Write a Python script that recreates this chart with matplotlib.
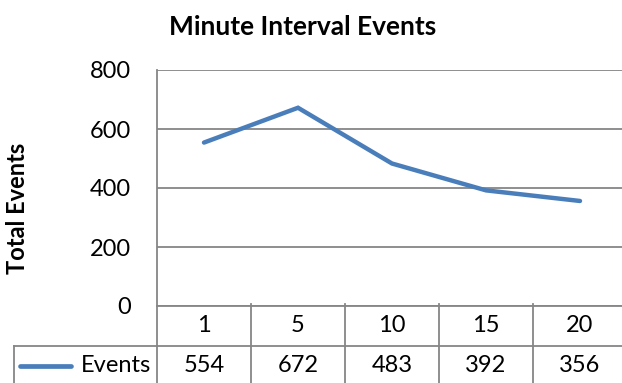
import matplotlib
matplotlib.use("Agg")
import matplotlib.pyplot as plt
from matplotlib.transforms import blended_transform_factory
from matplotlib.lines import Line2D

categories = ["1", "5", "10", "15", "20"]
events = [554, 672, 483, 392, 356]
series_name = "Events"
yticks = [0, 200, 400, 600, 800]
title = "Minute Interval Events"
ylabel = "Total Events"

W, H = 622, 383
plt.rcParams['font.family'] = ['Lato', 'DejaVu Sans']
fig = plt.figure(figsize=(W / 100, H / 100), dpi=100)

def px(x0, y0, x1, y1):
    return [x0 / W, 1 - y1 / H, (x1 - x0) / W, (y1 - y0) / H]

ax = fig.add_axes(px(157, 70, 627, 306))
grid_c = "#868686"
line_c = "#4A7EBB"
fs = 17
xs = list(range(len(categories)))
ax.plot(xs, events, color=line_c, lw=3.2, solid_capstyle="round", solid_joinstyle="miter", zorder=3)
ax.set_xlim(-0.5, len(categories) - 0.5)
ax.set_ylim(0, 800)
ax.set_yticks(yticks)
ax.set_yticklabels([str(v) for v in yticks], fontsize=fs)
ax.tick_params(axis="y", length=0, pad=18.5)
ax.set_xticks([])
for s in ["top", "right", "bottom"]:
    ax.spines[s].set_visible(False)
ax.spines["left"].set_color(grid_c)
ax.spines["left"].set_linewidth(1.3)
ax.yaxis.grid(True, color=grid_c, lw=1.3)
ax.set_axisbelow(True)

# data table
tr = blended_transform_factory(ax.transData, ax.transAxes)
ah = 236.0
r1 = -40 / ah
r2 = -80 / ah
kw = dict(color=grid_c, lw=1.3, clip_on=False)
ax.add_line(Line2D([-0.5, len(categories) - 0.5], [0, 0], transform=tr, **kw))
ax.add_line(Line2D([-0.5, len(categories) - 0.5], [r1, r1], transform=tr, **kw))
ax.add_line(Line2D([-0.5, -0.5], [0, r2], transform=tr, **kw))
for i in range(1, len(categories)):
    ax.add_line(Line2D([i - 0.5, i - 0.5], [0.01, r2], transform=tr, **kw))
# legend cell to the left
x_left = -0.5 - (157 - 14) / 94.0
ax.add_line(Line2D([x_left, -0.5], [r1, r1], transform=tr, **kw))
ax.add_line(Line2D([x_left, x_left], [r1, r2], transform=tr, **kw))
for i, (c, v) in enumerate(zip(categories, events)):
    ax.text(i, r1 / 2, c, transform=tr, ha="center", va="center", fontsize=fs)
    ax.text(i, (r1 + r2) / 2, str(v), transform=tr, ha="center", va="center", fontsize=fs)
ym = (r1 + r2) / 2
ax.add_line(Line2D([-0.5 - 137 / 94.0, -0.5 - 86 / 94.0], [ym, ym], transform=tr,
                   color=line_c, lw=3.4, solid_capstyle="round", clip_on=False))
ax.text(-0.5 - 6 / 94.0, ym, series_name, transform=tr, ha="right", va="center", fontsize=fs)

fig.text(303 / W, 1 - 27 / H, title, ha="center", va="center", fontsize=19, fontweight="bold")
fig.text(18 / W, 1 - 208 / H, ylabel, ha="center", va="center", rotation=90, fontsize=17, fontweight="bold")

fig.savefig("out.png", dpi=100)
